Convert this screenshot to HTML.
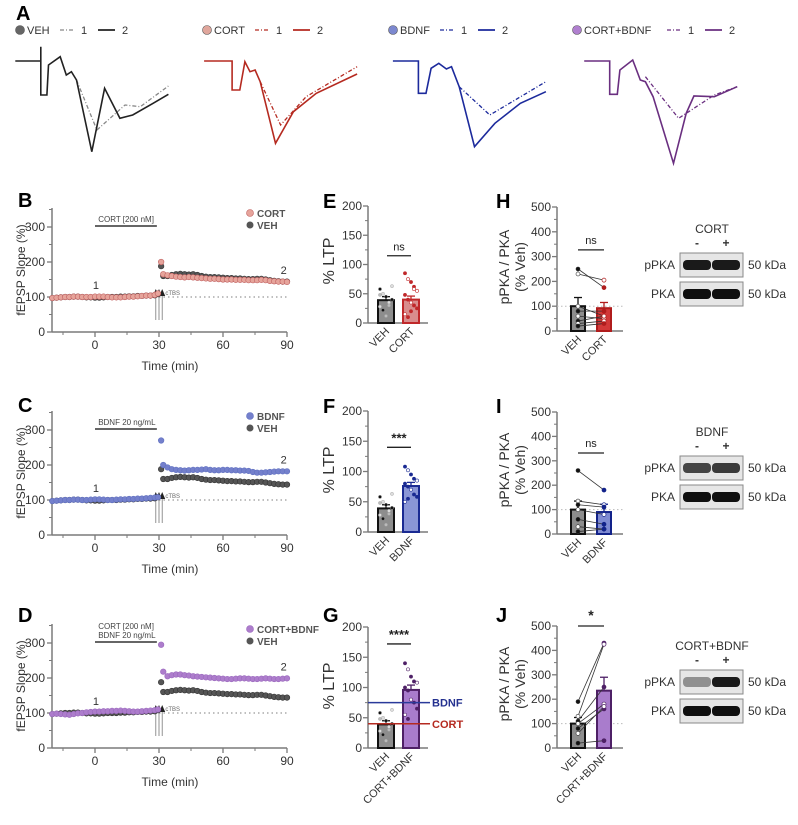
<!DOCTYPE html>
<html><head><meta charset="utf-8"><style>
body{margin:0;background:#fff}
svg{display:block;font-family:"Liberation Sans",sans-serif}
</style></head><body>
<svg id="fig" width="798" height="825" viewBox="0 0 798 825" xmlns="http://www.w3.org/2000/svg"></svg>
<script>
// ---------- data ----------
const times=[-20,-18,-16,-14,-12,-10,-8,-6,-4,-2,0,2,4,6,8,10,12,14,16,18,20,22,24,26,28,29.5,31,32,34,36,38,40,42,44,46,48,50,52,54,56,58,60,62,64,66,68,70,72,74,76,78,80,82,84,86,88,90];
const vehSeries=[97,98,99,100,100,101,101,100,99,99,98,98,99,100,100,100,101,101,102,102,103,103,104,104,105,108,188,160,160,163,165,166,165,164,165,163,160,158,157,157,156,155,154,154,153,153,152,151,151,152,152,150,148,146,145,144,144];
const cortSeries=[97,98,99,100,100,101,101,100,100,100,101,101,101,100,99,99,99,100,101,101,102,103,104,104,106,110,200,165,162,160,158,157,156,157,156,155,154,153,152,152,151,150,150,150,149,149,149,148,148,148,149,148,146,145,144,144,143];
const bdnfSeries=[97,98,99,100,100,101,101,100,100,101,102,102,101,100,100,101,102,102,103,103,104,104,105,106,107,108,270,200,193,188,186,185,184,185,186,186,187,188,186,185,185,186,186,185,185,184,184,183,180,178,178,179,180,181,182,182,182];
const cbSeries=[97,98,97,96,95,97,99,100,102,103,104,104,105,105,106,106,107,106,105,104,104,105,106,107,108,110,295,218,205,208,210,210,208,207,205,204,203,202,201,200,199,198,197,197,198,199,199,198,197,197,198,199,198,197,197,198,199];
const xTicks=[0,30,60,90];
const yTicksT=[0,100,200,300];
// LTP bars
const ltpVeh=39, ltpVehErr=45, ltpVehPts=[28,22,12,35,40,48,50,45,30,63,58];
const ltpCort=40, ltpCortErr=46, ltpCortPts=[85,75,70,62,55,48,40,35,30,25,15,10,20,58];
const ltpBdnf=76, ltpBdnfErr=82, ltpBdnfPts=[108,102,95,88,85,80,75,70,62,58,50,55];
const ltpCb=96, ltpCbErr=104, ltpCbPts=[140,130,118,110,108,100,95,80,75,65,55,48];
const yTicksLTP=[0,50,100,150,200];
// pPKA
const pkaVeh=100, pkaVehErr=135;
const pkaCort=92, pkaCortErr=115;
const pkaCortPairs=[[250,175],[230,205],[80,80],[60,50],[40,60],[30,40],[20,30],[100,60]];
const pkaBdnf=90, pkaBdnfErr=122, pkaVehErrI=135;
const pkaBdnfPairs=[[260,180],[135,120],[120,110],[100,80],[60,40],[30,20],[10,20]];
const pkaCb=235, pkaCbErr=290, pkaVehErrJ=125;
const pkaCbPairs=[[190,430],[130,425],[110,250],[100,180],[80,160],[60,170],[20,30]];
const yTicksPKA=[0,100,200,300,400,500];

const S=document.getElementById('fig');
const NS='http://www.w3.org/2000/svg';
function el(tag,attrs,parent,name,txt){
  const e=document.createElementNS(NS,tag);
  for(const k in attrs)e.setAttribute(k,attrs[k]);
  
  
  if(txt!==undefined)e.textContent=txt;
  (parent||S).appendChild(e);return e;
}
const AX='#7a7a7a';
function txt(x,y,s,size,opts,name){
  const o=Object.assign({x:x,y:y,'font-size':size,fill:'#333'},opts||{});
  return el('text',o,S,name||'label',s);
}
[['A',16,20],['B',18,207],['C',18,412],['D',18,622],['E',323,208],['F',323,413],['G',323,622],['H',496,208],['I',496,413],['J',496,622]].forEach(p=>txt(p[1],p[2],p[0],20,{'font-weight':'bold',fill:'#000'},'panel-letter-'+p[0].toLowerCase()));

// ---------- A: traces ----------
const fx=1.96, fy=3.0;
const traces=[
 {c:'#222',solid:[[30,183],[80,183],[80,140],[80,285],[92,285],[95,195],[118,170],[130,225],[140,215],[150,240],[180,455],[205,265],[235,355],[260,345],[300,310],[330,283]],dash:[[150,240],[190,390],[245,315],[275,320],[330,258]],dashc:'#888',leg:['VEH',15,'#666',33]},
 {c:'#b52a20',solid:[[400,183],[455,183],[455,270],[470,270],[480,185],[490,215],[500,210],[510,245],[540,430],[575,335],[620,280],[700,222]],dash:[[510,245],[550,375],[600,290],[700,200]],dashc:'#b52a20',leg:['CORT',202,'#e0a69c',41]},
 {c:'#1c2a9c',solid:[[770,183],[820,183],[820,280],[835,280],[845,205],[860,190],[875,207],[885,200],[900,260],[930,440],[970,370],[1020,310],[1070,275]],dash:[[900,260],[960,345],[1070,245]],dashc:'#1c2a9c',leg:['BDNF',388,'#7c88cf',40]},
 {c:'#6a2f80',solid:[[1145,183],[1195,183],[1195,283],[1210,283],[1215,210],[1240,180],[1255,240],[1265,245],[1280,290],[1320,490],[1345,340],[1360,288],[1400,290],[1445,260]],dash:[[1265,230],[1330,355],[1400,285],[1445,260]],dashc:'#6a2f80',leg:['CORT+BDNF',572,'#b07fcf',83]}
];
traces.forEach((t,i)=>{
  const pts=a=>a.map(p=>(p[0]/fx).toFixed(1)+','+(p[1]/fy).toFixed(1)).join(' ');
  el('polyline',{points:pts(t.dash),fill:'none',stroke:t.dashc,'stroke-width':1.3,'stroke-dasharray':'4,2,1,2'},S,'trace-1-'+t.leg[0].toLowerCase());
  el('polyline',{points:pts(t.solid),fill:'none',stroke:t.c,'stroke-width':1.6},S,'trace-2-'+t.leg[0].toLowerCase());
  const lx=t.leg[1], tw=t.leg[3];
  el('circle',{cx:lx+5,cy:30,r:4.5,fill:t.leg[2],stroke:'#555','stroke-width':0.6},S,'legend-dot');
  txt(lx+12,34,t.leg[0],11,{},'legend-label');
  el('line',{x1:lx+12+tw,y1:30,x2:lx+27+tw,y2:30,stroke:t.dashc,'stroke-width':1.3,'stroke-dasharray':'4,2,1,2'},S,'legend-line-1');
  txt(lx+33+tw,34,'1',11,{},'legend-label-1');
  el('line',{x1:lx+50+tw,y1:30,x2:lx+67+tw,y2:30,stroke:t.c,'stroke-width':1.8},S,'legend-line-2');
  txt(lx+74+tw,34,'2',11,{},'legend-label-2');
});

// ---------- time panels ----------
function timePanel(y0,series,col,edge,drug,legName,key){
  const xs=t=>95+t*2.1333, ys=v=>y0-v*0.35;
  el('line',{x1:52,y1:y0,x2:287,y2:y0,stroke:AX,'stroke-width':1.5},S,'x-axis');
  el('line',{x1:52,y1:y0,x2:52,y2:y0-124,stroke:AX,'stroke-width':1.5},S,'y-axis');
  xTicks.forEach(t=>{el('line',{x1:xs(t),y1:y0,x2:xs(t),y2:y0+5,stroke:AX,'stroke-width':1.3},S,'x-tick');txt(xs(t),y0+17,t,12,{'text-anchor':'middle'},'x-tick-label');});
  [-15,15,45,75].forEach(t=>el('line',{x1:xs(t),y1:y0,x2:xs(t),y2:y0+3,stroke:AX},S,'x-minor-tick'));
  yTicksT.forEach(v=>{el('line',{x1:47,y1:ys(v),x2:52,y2:ys(v),stroke:AX,'stroke-width':1.3},S,'y-tick');txt(45,ys(v)+4,v,12,{'text-anchor':'end'},'y-tick-label');});
  [50,150,250,350].forEach(v=>el('line',{x1:49,y1:ys(v),x2:52,y2:ys(v),stroke:AX},S,'y-minor-tick'));
  txt(170,y0+38,'Time (min)',12,{'text-anchor':'middle'},'x-axis-title');
  txt(0,0,'fEPSP Slope (%)',12,{'text-anchor':'middle',transform:`translate(25,${y0-62}) rotate(-90)`},'y-axis-title');
  el('line',{x1:xs(30),y1:ys(100),x2:xs(90),y2:ys(100),stroke:'#999','stroke-width':1.2,'stroke-dasharray':'1.5,3'},S,'baseline-100');
  el('line',{x1:xs(0),y1:ys(303),x2:xs(29),y2:ys(303),stroke:'#666','stroke-width':2},S,'drug-bar');
  drug.forEach((d,i)=>txt(xs(1.5),ys(303)-4-(drug.length-1-i)*9,d,8,{fill:'#444'},'drug-label'));
  [28.5,30,31.5].forEach(t=>{el('line',{x1:xs(t),y1:y0-37,x2:xs(t),y2:y0-12,stroke:'#777','stroke-width':0.8},S,'tbs-line');
    el('path',{d:`M${xs(t)-3},${y0-36}L${xs(t)},${y0-43}L${xs(t)+3},${y0-36}Z`,fill:'#222'},S,'tbs-arrow');});
  txt(xs(33),y0-37,'cTBS',6,{fill:'#666'},'tbs-label');
  const draw=(arr,c,st,nm)=>arr.forEach((v,i)=>{el('circle',{cx:xs(times[i]),cy:ys(v),r:2.8,fill:c,stroke:st,'stroke-width':0.6},S,nm);});
  draw(vehSeries,'#555','#333','veh-point');
  draw(series,col,edge,key+'-point');
  txt(xs(-1),ys(100)-8,'1',11,{},'trace-marker-1');
  txt(xs(87),ys(series[series.length-1])-8,'2',11,{},'trace-marker-2');
  el('circle',{cx:250,cy:y0-119,r:3.5,fill:col,stroke:edge,'stroke-width':0.6},S,'legend-dot');
  txt(257,y0-115,legName,10,{'font-weight':'bold',fill:'#555'},'legend-label');
  el('circle',{cx:250,cy:y0-107,r:3.5,fill:'#555'},S,'legend-dot');
  txt(257,y0-103,'VEH',10,{'font-weight':'bold',fill:'#555'},'legend-label');
}
timePanel(332,cortSeries,'#e6a49b','#c06060',['CORT [200 nM]'],'CORT','cort');
timePanel(535,bdnfSeries,'#7480cc','#6070c0',['BDNF 20 ng/mL'],'BDNF','bdnf');
timePanel(748,cbSeries,'#ad7dcc','#9a68bd',['CORT [200 nM]','BDNF 20 ng/mL'],'CORT+BDNF','cortbdnf');

// ---------- bar panels ----------
function axisY(ax,y0,ppu,ticks,len){
  el('line',{x1:ax,y1:y0,x2:ax,y2:y0-len,stroke:AX,'stroke-width':1.5},S,'y-axis');
  ticks.forEach(v=>{el('line',{x1:ax-5,y1:y0-v*ppu,x2:ax,y2:y0-v*ppu,stroke:AX,'stroke-width':1.3},S,'y-tick');txt(ax-6,y0-v*ppu+4,v,12,{'text-anchor':'end'},'y-tick-label');});
  for(let i=0;i<ticks.length-1;i++){const m=(ticks[i]+ticks[i+1])/2;el('line',{x1:ax-3,y1:y0-m*ppu,x2:ax,y2:y0-m*ppu,stroke:AX},S,'y-minor-tick');}
}
function bar(cx,w,y0,ppu,mean,err,fill,stroke,nm){
  el('line',{x1:cx,y1:y0-mean*ppu,x2:cx,y2:y0-err*ppu,stroke:stroke,'stroke-width':1.3},S,nm+'-error');
  el('line',{x1:cx-4,y1:y0-err*ppu,x2:cx+4,y2:y0-err*ppu,stroke:stroke,'stroke-width':1.3},S,nm+'-error-cap');
  el('rect',{x:cx-w/2,y:y0-mean*ppu,width:w,height:mean*ppu,fill:fill,stroke:stroke,'stroke-width':2},S,nm);
}
function catLabel(cx,y0,s){txt(0,0,s,11,{'text-anchor':'end',transform:`translate(${cx+4},${y0+9}) rotate(-45)`},'category-label');}
function ltpPanel(y0,ppu,pts,mean,err,fill,stroke,dotc,name,stars,sigY){
  const ax=368;
  axisY(ax,y0,ppu,yTicksLTP,200*ppu);
  el('line',{x1:ax,y1:y0,x2:428,y2:y0,stroke:AX,'stroke-width':1.5},S,'x-axis');
  txt(0,0,'% LTP',16,{'text-anchor':'middle',transform:`translate(334,${y0-62}) rotate(-90)`},'y-axis-title');
  bar(386,16,y0,ppu,ltpVeh,ltpVehErr,'#8d8d8d','#111','bar-veh');
  bar(411,16,y0,ppu,mean,err,fill,stroke,'bar-'+name.toLowerCase());
  ltpVehPts.forEach((v,i)=>el('circle',{cx:380+(i%5)*3,cy:y0-v*ppu,r:1.6,fill:i%3==0?'#ddd':(i%3==1?'#111':'#bbb'),stroke:'#999','stroke-width':0.4},S,'veh-dot'));
  pts.forEach((v,i)=>el('circle',{cx:405+(i%5)*3,cy:y0-v*ppu,r:1.6,fill:i%3==1?'#fff':dotc,stroke:dotc,'stroke-width':0.6},S,'dot'));
  el('line',{x1:387,y1:y0-sigY*ppu,x2:411,y2:y0-sigY*ppu,stroke:'#222','stroke-width':1.3},S,'significance-bar');
  txt(399,y0-sigY*ppu-5,stars,stars=='ns'?11:13,{'text-anchor':'middle','font-weight':stars=='ns'?'normal':'bold',fill:'#222'},'significance-label');
  catLabel(386,y0,'VEH');catLabel(411,y0,name);
}
ltpPanel(323,0.585,ltpCortPts,ltpCort,ltpCortErr,'#d98d8d','#c0282a','#c0282a','CORT','ns',115);
ltpPanel(532,0.605,ltpBdnfPts,ltpBdnf,ltpBdnfErr,'#8a96d6','#1a2a92','#1a2a92','BDNF','***',140);
ltpPanel(748,0.605,ltpCbPts,ltpCb,ltpCbErr,'#a97ccc','#4e2066','#4e2066','CORT+BDNF','****',172);
el('line',{x1:368,y1:748-75*0.605,x2:430,y2:748-75*0.605,stroke:'#2a3a9a','stroke-width':1.5},S,'bdnf-reference-line');
txt(432,748-75*0.605+4,'BDNF',11,{'font-weight':'bold',fill:'#23308f'},'bdnf-reference-label');
el('line',{x1:368,y1:748-40*0.605,x2:430,y2:748-40*0.605,stroke:'#b52a20','stroke-width':1.5},S,'cort-reference-line');
txt(432,748-40*0.605+4,'CORT',11,{'font-weight':'bold',fill:'#b52a20'},'cort-reference-label');

function pkaPanel(y0,ppu,pairs,vErr,mean,err,fill,stroke,name,stars,sigY,blotTitle,bandStrength){
  const ax=557;
  axisY(ax,y0,ppu,yTicksPKA,500*ppu);
  el('line',{x1:ax,y1:y0,x2:623,y2:y0,stroke:AX,'stroke-width':1.5},S,'x-axis');
  txt(0,0,'pPKA / PKA',14,{'text-anchor':'middle',transform:`translate(509,${y0-64}) rotate(-90)`},'y-axis-title');
  txt(0,0,'(% Veh)',14,{'text-anchor':'middle',transform:`translate(525,${y0-64}) rotate(-90)`},'y-axis-title-2');
  el('line',{x1:ax,y1:y0-100*ppu,x2:623,y2:y0-100*ppu,stroke:'#bbb','stroke-width':1,'stroke-dasharray':'1.5,2.5'},S,'reference-100');
  bar(578,14,y0,ppu,pkaVeh,vErr,'#8d8d8d','#111','bar-veh');
  bar(604,14,y0,ppu,mean,err,fill,stroke,'bar-'+name.toLowerCase());
  pairs.forEach((p,i)=>{
    el('line',{x1:578,y1:y0-p[0]*ppu,x2:604,y2:y0-p[1]*ppu,stroke:'#333','stroke-width':0.8},S,'pair-line');
    el('circle',{cx:578,cy:y0-p[0]*ppu,r:2,fill:i%2?'#fff':'#111',stroke:'#333','stroke-width':0.6},S,'veh-dot');
    el('circle',{cx:604,cy:y0-p[1]*ppu,r:2,fill:i%2?'#fff':stroke,stroke:stroke,'stroke-width':0.7},S,'dot');
  });
  el('line',{x1:578,y1:y0-sigY*ppu,x2:604,y2:y0-sigY*ppu,stroke:'#222','stroke-width':1.3},S,'significance-bar');
  txt(591,y0-sigY*ppu-6,stars,stars=='ns'?11:14,{'text-anchor':'middle','font-weight':stars=='ns'?'normal':'bold',fill:'#222'},'significance-label');
  catLabel(578,y0,'VEH');catLabel(604,y0,name);
  const by=y0-66;
  txt(712,by-32,blotTitle,12,{'text-anchor':'middle'},'blot-title');
  txt(697,by-18,'-',12,{'text-anchor':'middle','font-weight':'bold'},'blot-minus');
  txt(726,by-18,'+',12,{'text-anchor':'middle','font-weight':'bold'},'blot-plus');
  [['pPKA',0,bandStrength],['PKA',29,[1,1]]].forEach(r=>{
    const y=by-12+r[1];
    el('rect',{x:680,y:y,width:63,height:24,fill:'#e6e6e6',stroke:'#888','stroke-width':1},S,'blot-box-'+r[0].toLowerCase());
    [697,726].forEach((bx,j)=>el('rect',{x:bx-14,y:y+7,width:28,height:10,rx:4,fill:`rgba(15,15,15,${r[2][j]})`},S,'blot-band'));
    txt(675,y+16,r[0],12,{'text-anchor':'end'},'blot-row-label');
    txt(748,y+16,'50 kDa',12,{},'blot-size-label');
  });
}
pkaPanel(331,0.248,pkaCortPairs,pkaVehErr,pkaCort,pkaCortErr,'#d23838','#b01c1c','CORT','ns',327,'CORT',[0.95,0.95]);
pkaPanel(534,0.244,pkaBdnfPairs,pkaVehErrI,pkaBdnf,pkaBdnfErr,'#7e8ad2','#12228a','BDNF','ns',332,'BDNF',[0.75,0.8]);
pkaPanel(748,0.244,pkaCbPairs,pkaVehErrJ,pkaCb,pkaCbErr,'#a97ccc','#4e2066','CORT+BDNF','*',500,'CORT+BDNF',[0.4,0.95]);
</script>
</body></html>
